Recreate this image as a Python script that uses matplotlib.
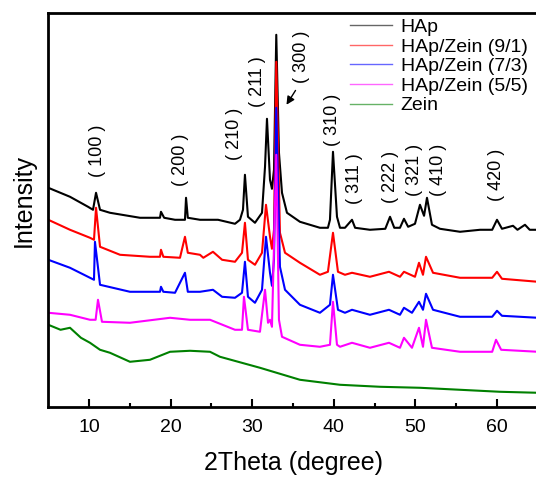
import matplotlib
matplotlib.use('Agg')
import matplotlib.pyplot as plt

plt.rcParams['font.family'] = ['Liberation Sans', 'Noto Sans CJK SC', 'DejaVu Sans']

# XRD patterns (2theta in degree, intensity in a.u., offset stacks)
hap_x = [5.0, 7.66, 9.87, 10.48, 10.85, 11.34, 12.56, 16.24, 18.69, 18.81, 19.2, 20.53, 21.75, 21.88, 22.1,
         23.59, 25.8, 27.88, 28.49, 28.86, 29.10, 29.47, 30.33, 31.19, 31.56, 31.80, 32.17, 32.41, 32.66,
         32.94, 33.27, 33.64, 34.25, 35.84, 38.29, 39.27, 39.52, 39.89, 40.38, 40.75, 41.36, 42.22, 42.6,
         44.42, 46.3, 46.88, 47.4, 48.1, 48.59, 49.1, 49.94, 50.55, 51.05, 51.41, 52.02, 53.0, 55.46,
         57.91, 59.4, 59.99, 60.6, 61.95, 62.5, 63.42, 64.0, 65.0]
hap_y = [219, 210, 200, 197, 214, 197, 194, 189, 189, 195, 189, 187, 187, 209, 189,
         187, 187, 183, 187, 197, 232, 190, 184, 194, 240, 288, 227, 218, 237,
         372, 254, 214, 194, 185, 179, 179, 187, 255, 190, 179, 179, 187, 179,
         177, 178, 190, 179, 179, 188, 180, 183, 202, 191, 209, 182, 178, 175,
         177, 177, 187, 178, 181, 177, 182, 177, 177]

z91_x = [5.0, 7.66, 10.11, 10.6, 10.85, 11.34, 13.79, 17.46, 18.69, 18.81, 19.1, 21.14, 21.75, 22.1,
         23.59, 24.0, 25.18, 26.3, 27.88, 28.74, 29.10, 29.47, 30.33, 31.19, 31.68, 32.17, 32.41, 32.66,
         32.94, 33.39, 34.01, 35.84, 38.29, 39.27, 39.89, 40.50, 41.36, 42.22, 44.42, 46.75, 48.10,
         48.59, 49.94, 50.43, 50.92, 51.29, 52.15, 55.46, 59.4, 59.99, 60.6, 65.0]
z91_y = [187, 177, 169, 167, 199, 160, 152, 150, 150, 157, 150, 149, 170, 154,
         152, 149, 155, 147, 145, 154, 184, 147, 142, 154, 202, 170, 158, 177,
         345, 174, 154, 144, 132, 135, 174, 135, 132, 134, 130, 135, 130,
         135, 130, 144, 132, 150, 134, 129, 129, 135, 128, 125]

z73_x = [5.0, 7.66, 10.11, 10.6, 10.72, 11.34, 15.01, 18.69, 18.81, 19.1, 20.53, 21.75, 22.1,
         23.59, 25.18, 26.3, 27.88, 28.74, 29.10, 29.47, 30.33, 31.19, 31.68, 32.17, 32.41, 32.66,
         32.94, 33.39, 34.01, 35.84, 38.29, 39.52, 39.89, 40.50, 41.36, 42.22, 44.42, 46.75, 48.10,
         48.59, 49.57, 50.43, 50.92, 51.29, 52.15, 55.46, 59.4, 59.99, 60.6, 65.0]
z73_y = [147, 139, 129, 127, 165, 122, 115, 115, 120, 115, 114, 134, 115,
         115, 117, 110, 109, 114, 145, 110, 104, 117, 170, 134, 121, 147,
         299, 140, 117, 102, 94, 102, 132, 97, 94, 97, 92, 97, 92,
         99, 94, 105, 97, 113, 97, 90, 90, 96, 91, 89]

z55_x = [5.0, 7.66, 10.11, 10.8, 11.09, 11.58, 15.01, 19.92, 22.37, 24.82, 27.88, 28.74, 28.98,
         29.47, 30.94, 31.56, 31.93, 32.17, 32.41, 32.94, 33.27, 33.64, 35.84, 38.29, 39.52, 39.89,
         40.38, 40.75, 42.22, 44.42, 46.75, 48.10, 48.59, 49.57, 50.43, 50.92, 51.29, 52.02, 55.46,
         59.4, 59.87, 60.5, 65.0]
z55_y = [94, 92, 87, 87, 107, 85, 84, 89, 87, 87, 77, 77, 110,
         77, 75, 117, 84, 87, 80, 252, 87, 70, 62, 60, 62, 105,
         62, 60, 64, 59, 64, 59, 69, 59, 79, 60, 87, 59, 55,
         55, 67, 57, 55]

zein_x = [5.0, 6.5, 7.66, 9.0, 10.11, 11.34, 12.56, 15.01, 17.46, 19.92, 22.37, 24.82, 26.04,
          30.94, 35.84, 40.75, 45.65, 50.55, 55.46, 60.36, 65.0]
zein_y = [82, 77, 79, 69, 64, 57, 54, 45, 47, 55, 56, 55, 50,
          39, 27, 22, 20, 19, 17, 15, 14]

names = ['HAp', 'HAp/Zein (9/1)', 'HAp/Zein (7/3)', 'HAp/Zein (5/5)', 'Zein']
colors = ['black', '#ff0000', '#0000ff', '#ff00ff', '#008000']

peak_labels = ['100', '200', '210', '211', '300', '310', '311', '222', '321', '410', '420']
peak_pos = [(10.97, 256), (21.25, 247), (27.88, 273), (30.70, 325), (36.09, 350), (39.89, 287),
            (42.55, 228), (46.88, 230), (49.94, 237), (52.76, 237), (59.99, 232)]

fig = plt.figure(figsize=(5.36, 4.78), dpi=100)
ax = fig.add_axes([0.0901, 0.149, 0.9134, 0.823])

series = [(hap_x, hap_y), (z91_x, z91_y), (z73_x, z73_y), (z55_x, z55_y), (zein_x, zein_y)]
for (xs, ys), nm, c in zip(series, names, colors):
    ax.plot(xs, ys, color=c, lw=1.5, label=nm)

for lab, (px, py) in zip(peak_labels, peak_pos):
    ax.text(px, py, '( ' + lab + ' )', rotation=90, ha='center', va='center', fontsize=13)

# arrow pointing to the (300) peak
ax.annotate('', xy=(34.01, 299.7), xytext=(35.48, 318.7),
            arrowprops=dict(arrowstyle='-|>', color='black', lw=1, mutation_scale=12))

ax.set_xlim(5, 65)
ax.set_ylim(0, 393.4)
ax.set_yticks([])
ax.set_xticks([10, 20, 30, 40, 50, 60])
ax.set_xticks([15, 25, 35, 45, 55], minor=True)
ax.tick_params(axis='x', which='major', direction='in', length=6, width=1.5, labelsize=14, pad=9)
ax.tick_params(axis='x', which='minor', direction='in', length=3, width=1.5)
for side in ['left', 'bottom', 'top']:
    ax.spines[side].set_linewidth(2)
ax.spines['right'].set_visible(False)

ax.set_xlabel('2Theta (degree)', fontsize=18)
ax.xaxis.set_label_coords(0.5, -0.113)
ax.set_ylabel('Intensity', fontsize=18)
ax.yaxis.set_label_coords(-0.025, 0.525)

leg = ax.legend(loc='upper left', bbox_to_anchor=(350 / 536, 1 - 18.5 / 478), bbox_transform=fig.transFigure,
                frameon=False, fontsize=14, handlelength=2.15, handletextpad=0.45, labelspacing=0.1,
                borderpad=0, borderaxespad=0)
for h in leg.get_lines():
    h.set_linewidth(1.0)
    h.set_alpha(0.6)

fig.savefig('out.png', dpi=100)
